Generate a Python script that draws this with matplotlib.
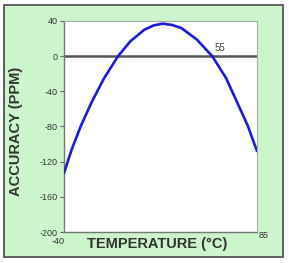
import matplotlib
matplotlib.use('Agg')
import matplotlib.pyplot as plt
from matplotlib.patches import Rectangle

# values
temps = [-40, -35, -29, -22, -14, -5, 3, 12, 18, 24, 30, 36, 46, 56, 65, 72, 79, 85]
accuracy = [-133, -106, -79, -52, -25, 0, 17, 30, 35, 37, 35.5, 32, 19, 0, -25, -52, -79, -108]
yticks = [40, 0, -40, -80, -120, -160, -200]
xlim = (-40, 85)
ylim = (-200, 40)

plt.rcParams['font.family'] = ['Liberation Sans', 'DejaVu Sans']

fig = plt.figure(figsize=(2.89, 2.63), dpi=100)
fig.patch.set_facecolor('white')

# green panel behind the chart
panel = Rectangle((4/289, 1 - 257/263), 279/289, 252/263, transform=fig.transFigure,
                  facecolor='#ccf5cc', edgecolor='#555555', linewidth=1.3, zorder=-1)
fig.patches.append(panel)

ax = fig.add_axes([64/289, 1 - 232/263, 193/289, 211/263])
ax.set_zorder(1)
ax.set_facecolor('white')
ax.plot(temps, accuracy, color='#1c1cd8', linewidth=1.9, solid_joinstyle='round',
        solid_capstyle='round', zorder=3)
ax.axhline(0, color='#555555', linewidth=1.8, zorder=2)

ax.set_xlim(*xlim)
ax.set_ylim(*ylim)
ax.set_yticks(yticks)
ax.set_yticklabels([str(v) for v in yticks], fontsize=6.5, color='#333333')
ax.set_xticks([])
ax.tick_params(axis='y', length=3, width=0.8, color='#666666', pad=1.5)

for side in ['left', 'bottom']:
    ax.spines[side].set_color('#777777')
    ax.spines[side].set_linewidth(1.0)
for side in ['top', 'right']:
    ax.spines[side].set_color('#aaaaaa')
    ax.spines[side].set_linewidth(0.8)

ax.text(57.5, 9, '55', fontsize=7, color='#444444', ha='left', va='center')

fig.text(58/289, 1 - 241/263, '-40', fontsize=6.5, color='#333333', ha='center', va='center')
fig.text(264/289, 1 - 236/263, '85', fontsize=6.5, color='#333333', ha='center', va='center')
fig.text(157/289, 1 - 244/263, 'TEMPERATURE (°C)', fontsize=10.5, fontweight='bold',
         color='#333333', ha='center', va='center')
fig.text(16/289, 1 - 131/263, 'ACCURACY (PPM)', fontsize=10.5, fontweight='bold',
         color='#333333', ha='center', va='center', rotation=90)

fig.savefig('out.png', dpi=100)
